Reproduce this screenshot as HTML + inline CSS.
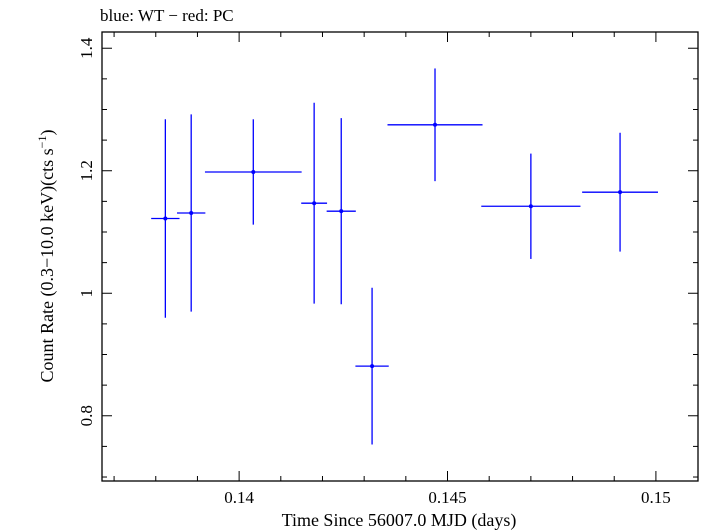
<!DOCTYPE html>
<html><head><meta charset="utf-8"><style>
html,body{margin:0;padding:0;background:#fff;}
svg{display:block;font-family:"Liberation Serif",serif;}
</style></head><body>
<svg id="chart" width="709" height="532" viewBox="0 0 709 532" xmlns="http://www.w3.org/2000/svg">
<text x="100" y="21" font-size="17">blue: WT − red: PC</text>
<rect x="102" y="32" width="596" height="449" fill="none" stroke="#000" stroke-width="1.3"/>
<g id="axes"></g>
<g id="marks"></g>
<text x="399" y="526" font-size="18" text-anchor="middle">Time Since 56007.0 MJD (days)</text>
<text transform="translate(53,256) rotate(-90)" font-size="18" text-anchor="middle">Count Rate (0.3−10.0 keV)(cts s<tspan font-size="12" dy="-7">−1</tspan><tspan dy="7">)</tspan></text>
</svg>
<script>
const times = [0.13823, 0.13885, 0.14034, 0.14180, 0.14245, 0.14319, 0.14470, 0.14700, 0.14914];
const timeErrs = [0.00034, 0.00034, 0.00116, 0.00031, 0.00035, 0.00040, 0.00114, 0.00119, 0.00091];
const rates = [1.122, 1.131, 1.198, 1.147, 1.134, 0.881, 1.275, 1.142, 1.165];
const rateErrs = [0.162, 0.161, 0.086, 0.164, 0.152, 0.128, 0.092, 0.086, 0.097];
const xTicks = [0.14, 0.145, 0.15];
const xTickLabels = ["0.14", "0.145", "0.15"];
const yTicks = [0.8, 1.0, 1.2, 1.4];
const yTickLabels = ["0.8", "1", "1.2", "1.4"];

const L=102,R=698,T=32,B=481;
const xMin=0.13671,xMax=0.15101,yMin=0.6935,yMax=1.4265;
const sx=v=>L+(v-xMin)/(xMax-xMin)*(R-L);
const sy=v=>B-(v-yMin)/(yMax-yMin)*(B-T);
const NS="http://www.w3.org/2000/svg";
function mk(tag,attrs,parent){const e=document.createElementNS(NS,tag);for(const k in attrs)e.setAttribute(k,attrs[k]);parent.appendChild(e);return e;}
const axes=document.getElementById('axes'),marks=document.getElementById('marks');

// x minor ticks
for(let v=0.137;v<=0.151;v+=0.001){
  const x=sx(v); if(x<L||x>R)continue;
  const major=Math.abs(v/0.005-Math.round(v/0.005))<1e-6;
  const len=major?10:5;
  const t1=mk('line',{x1:x,x2:x,y1:B,y2:B-len,stroke:'#000','stroke-width':1},axes);
  
  
  const t2=mk('line',{x1:x,x2:x,y1:T,y2:T+len,stroke:'#000','stroke-width':1},axes);
  
  
}
xTicks.forEach((v,i)=>{
  const t=mk('text',{x:sx(v),y:503,'font-size':17,'text-anchor':'middle'},axes);
  t.textContent=xTickLabels[i];
  
  
});
for(let v=0.7;v<=1.42;v+=0.05){
  const y=sy(v); if(y<T||y>B)continue;
  const major=Math.abs(v/0.2-Math.round(v/0.2))<1e-6;
  const len=major?10:5;
  const t1=mk('line',{x1:L,x2:L+len,y1:y,y2:y,stroke:'#000','stroke-width':1},axes);
  
  
  const t2=mk('line',{x1:R,x2:R-len,y1:y,y2:y,stroke:'#000','stroke-width':1},axes);
  
  
}
yTicks.forEach((v,i)=>{
  const t=mk('text',{transform:`translate(92,${sy(v)}) rotate(-90)`,'font-size':17,'text-anchor':'middle'},axes);
  t.textContent=yTickLabels[i];
  
  
});
times.forEach((t,i)=>{
  const g=mk('g',{},marks);
  
  
  const x=sx(t),y=sy(rates[i]);
  mk('line',{x1:sx(t-timeErrs[i]),x2:sx(t+timeErrs[i]),y1:y,y2:y,stroke:'#0000ff','stroke-width':1.3},g);
  mk('line',{x1:x,x2:x,y1:sy(rates[i]+rateErrs[i]),y2:sy(rates[i]-rateErrs[i]),stroke:'#0000ff','stroke-width':1.3},g);
  mk('circle',{cx:x,cy:y,r:2,fill:'#0000ff'},g);
});
</script>
</body></html>
